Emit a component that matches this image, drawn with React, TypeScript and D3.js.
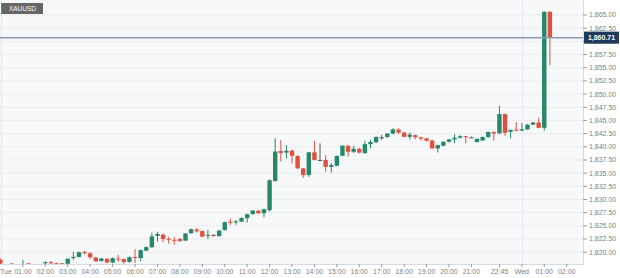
import React from "react";
import * as d3 from "d3";

const opens = [1818.5,1817.5,1817.85,1817.5,1817.6,1817.85,1817.5,1817.5,1817.9,1818.1,1817.9,1817.85,1817.8,1818.9,1819.1,1820.0,1819.8,1819.0,1818.35,1818.75,1818.05,1818.8,1818.7,1818.15,1819.1,1818.9,1820.3,1820.95,1823.1,1823.3,1822.55,1822.35,1822.5,1822.2,1823.6,1824.3,1824.0,1823.15,1823.3,1823.05,1824.2,1825.8,1825.75,1825.8,1826.45,1827.25,1827.85,1827.4,1827.95,1833.5,1839.2,1838.9,1839.25,1838.25,1835.9,1834.65,1838.95,1837.5,1837.5,1836.2,1836.4,1838.3,1840.2,1839.05,1839.6,1838.8,1840.5,1840.85,1841.8,1841.85,1842.5,1843.25,1842.7,1841.9,1842.2,1841.8,1841.6,1841.2,1839.7,1840.2,1840.95,1841.4,1841.7,1842.0,1841.8,1840.9,1841.2,1841.85,1842.8,1842.55,1846.2,1842.85,1843.25,1843.05,1843.3,1844.2,1844.6,1843.6,1865.6];
const highs = [1818.8,1817.6,1817.9,1817.6,1818.5,1818.0,1817.6,1817.6,1818.3,1818.3,1818.0,1817.95,1818.8,1820.1,1820.1,1820.3,1820.0,1819.1,1818.95,1818.85,1819.0,1819.5,1818.8,1819.2,1820.6,1820.5,1821.1,1823.7,1823.9,1823.6,1822.9,1822.9,1822.7,1823.6,1824.5,1824.6,1824.1,1824.2,1823.4,1824.2,1825.8,1826.4,1826.1,1826.6,1827.3,1828.0,1828.0,1828.25,1833.8,1841.6,1841.3,1840.3,1839.5,1838.4,1836.0,1839.0,1841.1,1840.65,1838.4,1836.9,1838.4,1840.3,1840.3,1840.2,1839.8,1841.15,1841.3,1842.0,1842.25,1842.6,1843.5,1843.5,1842.8,1842.7,1842.3,1841.9,1841.7,1841.3,1840.4,1841.05,1841.5,1842.4,1842.2,1842.05,1841.95,1841.6,1841.95,1842.9,1842.9,1847.75,1846.3,1843.3,1844.7,1844.5,1844.3,1844.7,1845.5,1865.7,1865.7];
const lows = [1817.6,1817.3,1817.6,1817.3,1817.3,1817.6,1817.3,1817.3,1817.7,1817.7,1817.7,1817.7,1817.6,1818.5,1819.0,1819.6,1818.7,1818.2,1818.2,1817.9,1817.9,1818.2,1817.8,1818.0,1817.95,1818.3,1820.2,1820.8,1822.0,1821.9,1821.6,1821.4,1822.0,1822.1,1823.5,1823.75,1822.8,1822.5,1822.95,1822.9,1824.1,1825.2,1825.2,1825.7,1825.6,1827.1,1827.3,1826.6,1827.7,1833.4,1837.2,1837.8,1836.85,1835.8,1834.1,1834.3,1837.4,1837.35,1835.3,1835.1,1836.3,1838.2,1838.1,1838.8,1838.75,1838.7,1839.7,1840.7,1841.3,1841.7,1842.4,1842.4,1841.8,1841.4,1841.45,1841.15,1841.0,1839.6,1838.9,1840.1,1840.8,1840.65,1841.6,1840.65,1841.7,1840.8,1841.1,1841.7,1841.15,1842.4,1842.1,1841.6,1842.9,1843.0,1843.2,1844.1,1843.5,1843.05,1855.5];
const closes = [1817.9,1817.4,1817.75,1817.45,1817.7,1817.75,1817.45,1817.45,1818.1,1817.9,1817.85,1817.85,1818.75,1819.1,1820.0,1819.8,1819.05,1818.25,1818.8,1818.05,1818.85,1818.65,1818.15,1819.05,1818.95,1820.4,1820.95,1823.0,1823.45,1822.5,1822.4,1822.2,1822.1,1823.55,1824.35,1823.97,1822.95,1823.3,1823.05,1824.1,1825.7,1825.7,1825.85,1826.5,1827.2,1827.9,1827.4,1828.15,1833.65,1839.1,1838.8,1839.25,1838.3,1835.9,1834.65,1838.95,1837.5,1837.5,1836.2,1836.55,1838.25,1840.2,1839.05,1839.6,1838.9,1840.5,1840.9,1841.85,1841.8,1842.5,1843.3,1842.7,1841.9,1842.3,1841.8,1841.55,1841.15,1839.7,1840.3,1840.95,1841.4,1841.7,1842.0,1841.9,1841.8,1841.5,1841.85,1842.8,1842.5,1846.2,1842.65,1843.2,1843.1,1843.3,1844.2,1844.6,1843.6,1865.6,1860.71];

const xTickIndex = [0,4,8,12,16,20,24,28,32,36,40,44,48,52,56,60,64,68,72,76,80,84,89,93,97,101];
const xTickLabels = ["Tue","01:00","02:00","03:00","04:00","05:00","06:00","07:00","08:00","09:00","10:00","11:00","12:00","13:00","14:00","15:00","16:00","17:00","18:00","19:00","20:00","21:00","22:45","Wed","01:00","02:00"];
const yTicks = [1820,1822.5,1825,1827.5,1830,1832.5,1835,1837.5,1840,1842.5,1845,1847.5,1850,1852.5,1855,1857.5,1860,1862.5,1865];
const daySeparators = [0, 93];
const symbol = "XAUUSD";
const lastPrice = 1860.71;

const W = 620, H = 278;
const plotR = 583, plotB = 264;
const GREEN = "#26876a";
const RED = "#e0513d";
const DOJI = "#555555";
const FONT = "'Liberation Sans', Arial, sans-serif";

export default function App() {
  const x = d3.scaleLinear().domain([0, 101]).range([0.5, 566.7]);
  const y = d3.scaleLinear().domain([1817.76, 1867.85]).range([plotB, 0]);
  const fmt = d3.format(",.2f");
  const bw = 4.4;
  const candles = opens.map((o, i) => ({ i, o, h: highs[i], l: lows[i], c: closes[i] }));

  return (
    <div style={{ position: "fixed", left: 0, top: 0, width: W, height: H, background: "#fff" }}>
      <svg width={W} height={H} style={{ display: "block" }}>
        <defs>
          <clipPath id="plotClip">
            <rect x={0} y={0} width={plotR} height={plotB} />
          </clipPath>
        </defs>
        <rect x={0} y={0} width={plotR} height={plotB} fill="#f7f8fa" />
        {yTicks.map((t) => (
          <line key={"g" + t} x1={0} x2={plotR} y1={y(t)} y2={y(t)} stroke="#e9ebef" strokeWidth={1} />
        ))}
        {daySeparators.map((d) => (
          <line key={"d" + d} x1={Math.round(x(d)) + 0.5} x2={Math.round(x(d)) + 0.5} y1={0} y2={plotB} stroke="#e3e6ee" strokeWidth={1} />
        ))}
        <g clipPath="url(#plotClip)">
          {candles.map((d) => {
            const col = d.c > d.o ? GREEN : d.c < d.o ? RED : DOJI;
            const cx = x(d.i);
            const top = y(Math.max(d.o, d.c));
            const bot = y(Math.min(d.o, d.c));
            return (
              <g key={d.i}>
                <line x1={cx} x2={cx} y1={y(d.h)} y2={y(d.l)} stroke={col} strokeWidth={1} />
                <rect x={cx - bw / 2} y={top} width={bw} height={Math.max(1, bot - top)} fill={col} />
              </g>
            );
          })}
        </g>
        <line x1={0} x2={plotR} y1={y(lastPrice)} y2={y(lastPrice)} stroke="#8a9ab2" strokeWidth={1.5} />
        <line x1={plotR + 0.5} x2={plotR + 0.5} y1={0} y2={plotB} stroke="#d5dae3" strokeWidth={1} />
        <line x1={0} x2={plotR + 0.5} y1={plotB + 0.5} y2={plotB + 0.5} stroke="#d5dae3" strokeWidth={1} />
        {yTicks.map((t) => (
          <g key={"t" + t}>
            <line x1={plotR} x2={plotR + 4} y1={y(t)} y2={y(t)} stroke="#999" strokeWidth={1} />
            <text x={plotR + 6} y={y(t)} dy="0.35em" fontSize={7} fill="#808080" fontFamily={FONT}>{fmt(t)}</text>
          </g>
        ))}
        {xTickIndex.map((t, k) => (
          <g key={"x" + k}>
            {k > 0 && <line x1={x(t)} x2={x(t)} y1={plotB} y2={plotB + 3} stroke="#999" strokeWidth={1} />}
            <text x={k === 0 ? 0 : x(t)} y={273.5} fontSize={7} fill="#808080" fontFamily={FONT} textAnchor={k === 0 ? "start" : "middle"}>{xTickLabels[k]}</text>
          </g>
        ))}
        <rect x={plotR + 1} y={y(lastPrice) - 6} width={35} height={12} fill="#1f3a5c" />
        <text x={plotR + 18.5} y={y(lastPrice)} dy="0.35em" fontSize={7} fontWeight="bold" fill="#fff" textAnchor="middle" fontFamily={FONT}>{fmt(lastPrice)}</text>
        <rect x={1} y={3} width={42} height={11} fill="#666" />
        <rect x={1} y={3} width={1.2} height={11} fill="#2a9a7a" />
        <text x={22.5} y={8.5} dy="0.35em" fontSize={6.5} fill="#fff" textAnchor="middle" fontFamily={FONT}>{symbol}</text>
      </svg>
    </div>
  );
}
